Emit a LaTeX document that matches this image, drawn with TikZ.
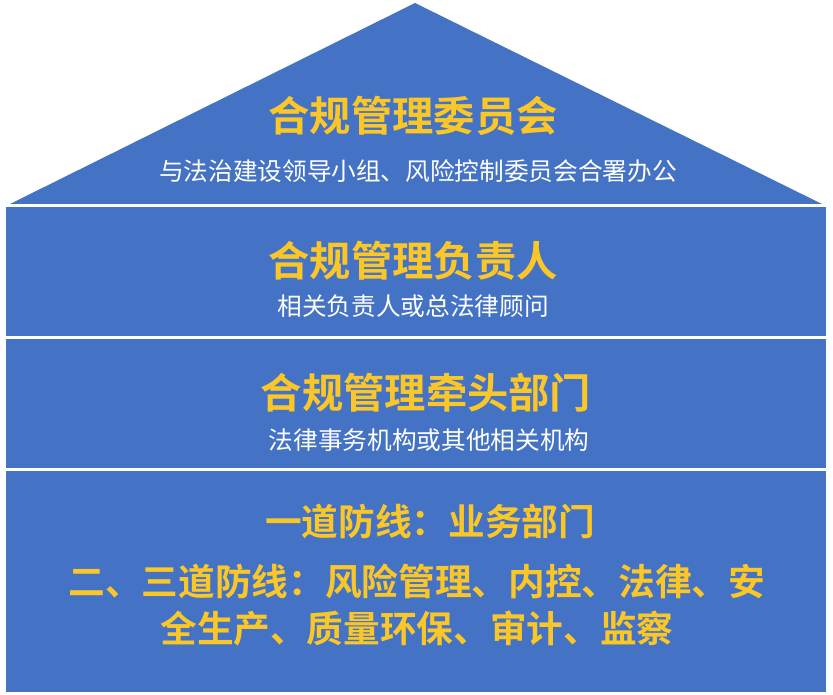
\documentclass[tikz,border=0pt]{standalone}
\usepackage{fontspec}
\newfontfamily\cjk{Noto Sans CJK SC}[BoldFont={Noto Sans CJK SC Bold}]
\definecolor{houseblue}{RGB}{68,114,196}
\definecolor{titlegold}{RGB}{250,198,40}
\begin{document}
\begin{tikzpicture}[x=0.75pt,y=-0.75pt,
  block/.style={fill=houseblue,draw=none},
  title/.style={text=titlegold,font=\cjk\bfseries\fontsize{31}{36}\selectfont,inner sep=0pt},
  sub/.style={text=white,font=\cjk\fontsize{18.5}{22}\selectfont,inner sep=0pt},
  lines/.style={text=titlegold,font=\cjk\bfseries\fontsize{27.5}{36}\selectfont,inner sep=0pt,align=center}]
\useasboundingbox (0,0) rectangle (833,695);
\fill[white] (0,0) rectangle (833,695);
% roof
\fill[block] (415,3) -- (822,204) -- (10,204) -- cycle;
% floors
\fill[block] (6,207) rectangle (826,336);
\fill[block] (6,339) rectangle (826,468);
\fill[block] (6,471) rectangle (826,692);
% texts
\node[title] (t1) at (413,116) {合规管理委员会};
\node[sub] (s1) at (418,171) {与法治建设领导小组、风险控制委员会合署办公};
\node[title] (t2) at (413,261) {合规管理负责人};
\node[sub] (s2) at (413,306) {相关负责人或总法律顾问};
\node[title] (t3) at (426,393) {合规管理牵头部门};
\node[sub] (s3) at (429,440) {法律事务机构或其他相关机构};
\node[lines] (l1) at (430,521) {一道防线：业务部门};
\node[lines] (l2) at (417,581) {二、三道防线：风险管理、内控、法律、安};
\node[lines] (l3) at (417,629) {全生产、质量环保、审计、监察};
\end{tikzpicture}
\end{document}
